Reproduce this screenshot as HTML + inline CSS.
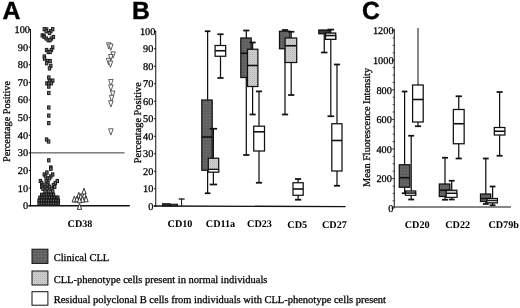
<!DOCTYPE html>
<html lang="en"><head><meta charset="utf-8"><title>Figure</title>
<style>
html,body{margin:0;padding:0;background:#fff;}
body{width:520px;height:308px;overflow:hidden;}
svg{display:block;filter:blur(0.35px);}
text{fill:#000;stroke:#000;stroke-width:0.28px;text-rendering:geometricPrecision;}
</style></head><body>
<svg width="520" height="308" viewBox="0 0 520 308">
<defs>
<pattern id="pd" width="3" height="3" patternUnits="userSpaceOnUse"><rect width="3" height="3" fill="#646464"/><rect x="0" y="0" width="1" height="1" fill="#565656"/><rect x="2" y="1" width="1" height="1" fill="#707070"/><rect x="1" y="2" width="1" height="1" fill="#5a5a5a"/></pattern>
<pattern id="pl" width="2" height="2" patternUnits="userSpaceOnUse"><rect width="2" height="2" fill="#d0d0d0"/><rect x="0" y="0" width="1" height="1" fill="#b4b4b4"/><rect x="1" y="1" width="1" height="1" fill="#c6c6c6"/></pattern>
</defs>
<rect x="0" y="0" width="520" height="308" fill="#fff"/>
<text x="2.60" y="19.20" font-family='"Liberation Sans", sans-serif' font-size="24.9" font-weight="bold" text-anchor="start" style="stroke-width:0.4px">A</text>
<text x="132.00" y="18.95" font-family='"Liberation Sans", sans-serif' font-size="24.7" font-weight="bold" text-anchor="start" style="stroke-width:0.4px">B</text>
<text x="361.90" y="18.85" font-family='"Liberation Sans", sans-serif' font-size="24.7" font-weight="bold" text-anchor="start" style="stroke-width:0.4px">C</text>
<line x1="30.50" y1="29.00" x2="30.50" y2="206.25" stroke="#111" stroke-width="1.0"/>
<line x1="28.50" y1="205.75" x2="129.80" y2="205.75" stroke="#111" stroke-width="1.4"/>
<line x1="30.50" y1="152.88" x2="124.50" y2="152.88" stroke="#222" stroke-width="0.9"/>
<line x1="28.70" y1="205.75" x2="30.50" y2="205.75" stroke="#111" stroke-width="1"/>
<text x="28.10" y="209.15" font-family='"Liberation Serif", serif' font-size="10.3" font-weight="normal" text-anchor="end">0</text>
<line x1="28.70" y1="188.12" x2="30.50" y2="188.12" stroke="#111" stroke-width="1"/>
<text x="28.10" y="191.53" font-family='"Liberation Serif", serif' font-size="10.3" font-weight="normal" text-anchor="end">10</text>
<line x1="28.70" y1="170.50" x2="30.50" y2="170.50" stroke="#111" stroke-width="1"/>
<text x="28.10" y="173.90" font-family='"Liberation Serif", serif' font-size="10.3" font-weight="normal" text-anchor="end">20</text>
<line x1="28.70" y1="152.88" x2="30.50" y2="152.88" stroke="#111" stroke-width="1"/>
<text x="28.10" y="156.28" font-family='"Liberation Serif", serif' font-size="10.3" font-weight="normal" text-anchor="end">30</text>
<line x1="28.70" y1="135.25" x2="30.50" y2="135.25" stroke="#111" stroke-width="1"/>
<text x="28.10" y="138.65" font-family='"Liberation Serif", serif' font-size="10.3" font-weight="normal" text-anchor="end">40</text>
<line x1="28.70" y1="117.62" x2="30.50" y2="117.62" stroke="#111" stroke-width="1"/>
<text x="28.10" y="121.03" font-family='"Liberation Serif", serif' font-size="10.3" font-weight="normal" text-anchor="end">50</text>
<line x1="28.70" y1="100.00" x2="30.50" y2="100.00" stroke="#111" stroke-width="1"/>
<text x="28.10" y="103.40" font-family='"Liberation Serif", serif' font-size="10.3" font-weight="normal" text-anchor="end">60</text>
<line x1="28.70" y1="82.38" x2="30.50" y2="82.38" stroke="#111" stroke-width="1"/>
<text x="28.10" y="85.78" font-family='"Liberation Serif", serif' font-size="10.3" font-weight="normal" text-anchor="end">70</text>
<line x1="28.70" y1="64.75" x2="30.50" y2="64.75" stroke="#111" stroke-width="1"/>
<text x="28.10" y="68.15" font-family='"Liberation Serif", serif' font-size="10.3" font-weight="normal" text-anchor="end">80</text>
<line x1="28.70" y1="47.12" x2="30.50" y2="47.12" stroke="#111" stroke-width="1"/>
<text x="28.10" y="50.52" font-family='"Liberation Serif", serif' font-size="10.3" font-weight="normal" text-anchor="end">90</text>
<line x1="28.70" y1="29.50" x2="30.50" y2="29.50" stroke="#111" stroke-width="1"/>
<text x="30.00" y="32.90" font-family='"Liberation Serif", serif' font-size="10.3" font-weight="normal" text-anchor="end">100</text>
<text x="10.40" y="121.50" font-family='"Liberation Serif", serif' font-size="10.3" font-weight="normal" text-anchor="middle" transform="rotate(-90 10.40 121.50)">Percentage Positive</text>
<text x="80.00" y="227.40" font-family='"Liberation Serif", serif' font-size="10.2" font-weight="bold" text-anchor="middle" style="stroke:none">CD38</text>
<rect x="43.10" y="27.60" width="2.4" height="3.2" fill="#777" stroke="#1a1a1a" stroke-width="1.0"/>
<rect x="45.40" y="27.80" width="2.4" height="3.2" fill="#777" stroke="#1a1a1a" stroke-width="1.0"/>
<rect x="51.50" y="27.60" width="2.4" height="3.2" fill="#777" stroke="#1a1a1a" stroke-width="1.0"/>
<rect x="45.00" y="29.70" width="2.4" height="3.2" fill="#777" stroke="#1a1a1a" stroke-width="1.0"/>
<rect x="49.60" y="29.50" width="2.4" height="3.2" fill="#777" stroke="#1a1a1a" stroke-width="1.0"/>
<rect x="48.30" y="31.40" width="2.4" height="3.2" fill="#777" stroke="#1a1a1a" stroke-width="1.0"/>
<rect x="41.10" y="33.80" width="2.4" height="3.2" fill="#777" stroke="#1a1a1a" stroke-width="1.0"/>
<rect x="42.70" y="34.20" width="2.4" height="3.2" fill="#777" stroke="#1a1a1a" stroke-width="1.0"/>
<rect x="43.10" y="35.40" width="2.4" height="3.2" fill="#777" stroke="#1a1a1a" stroke-width="1.0"/>
<rect x="52.20" y="35.40" width="2.4" height="3.2" fill="#777" stroke="#1a1a1a" stroke-width="1.0"/>
<rect x="45.00" y="36.90" width="2.4" height="3.2" fill="#777" stroke="#1a1a1a" stroke-width="1.0"/>
<rect x="50.20" y="36.90" width="2.4" height="3.2" fill="#777" stroke="#1a1a1a" stroke-width="1.0"/>
<rect x="47.00" y="38.60" width="2.4" height="3.2" fill="#777" stroke="#1a1a1a" stroke-width="1.0"/>
<rect x="48.80" y="38.60" width="2.4" height="3.2" fill="#777" stroke="#1a1a1a" stroke-width="1.0"/>
<rect x="51.50" y="45.80" width="2.4" height="3.2" fill="#777" stroke="#1a1a1a" stroke-width="1.0"/>
<rect x="45.40" y="48.40" width="2.4" height="3.2" fill="#777" stroke="#1a1a1a" stroke-width="1.0"/>
<rect x="50.20" y="48.40" width="2.4" height="3.2" fill="#777" stroke="#1a1a1a" stroke-width="1.0"/>
<rect x="47.00" y="50.40" width="2.4" height="3.2" fill="#777" stroke="#1a1a1a" stroke-width="1.0"/>
<rect x="48.90" y="50.40" width="2.4" height="3.2" fill="#777" stroke="#1a1a1a" stroke-width="1.0"/>
<rect x="43.10" y="54.90" width="2.4" height="3.2" fill="#777" stroke="#1a1a1a" stroke-width="1.0"/>
<rect x="43.40" y="57.00" width="2.4" height="3.2" fill="#777" stroke="#1a1a1a" stroke-width="1.0"/>
<rect x="46.30" y="59.40" width="2.4" height="3.2" fill="#777" stroke="#1a1a1a" stroke-width="1.0"/>
<rect x="48.90" y="59.40" width="2.4" height="3.2" fill="#777" stroke="#1a1a1a" stroke-width="1.0"/>
<rect x="45.40" y="61.60" width="2.4" height="3.2" fill="#777" stroke="#1a1a1a" stroke-width="1.0"/>
<rect x="49.60" y="64.20" width="2.4" height="3.2" fill="#777" stroke="#1a1a1a" stroke-width="1.0"/>
<rect x="48.30" y="66.80" width="2.4" height="3.2" fill="#777" stroke="#1a1a1a" stroke-width="1.0"/>
<rect x="47.60" y="75.90" width="2.4" height="3.2" fill="#777" stroke="#1a1a1a" stroke-width="1.0"/>
<rect x="48.30" y="79.20" width="2.4" height="3.2" fill="#777" stroke="#1a1a1a" stroke-width="1.0"/>
<rect x="51.50" y="79.00" width="2.4" height="3.2" fill="#777" stroke="#1a1a1a" stroke-width="1.0"/>
<rect x="45.70" y="81.80" width="2.4" height="3.2" fill="#777" stroke="#1a1a1a" stroke-width="1.0"/>
<rect x="47.60" y="82.00" width="2.4" height="3.2" fill="#777" stroke="#1a1a1a" stroke-width="1.0"/>
<rect x="50.20" y="81.60" width="2.4" height="3.2" fill="#777" stroke="#1a1a1a" stroke-width="1.0"/>
<rect x="47.60" y="85.00" width="2.4" height="3.2" fill="#777" stroke="#1a1a1a" stroke-width="1.0"/>
<rect x="47.60" y="91.40" width="2.4" height="3.2" fill="#777" stroke="#1a1a1a" stroke-width="1.0"/>
<rect x="47.60" y="105.90" width="2.4" height="3.2" fill="#777" stroke="#1a1a1a" stroke-width="1.0"/>
<rect x="47.60" y="114.00" width="2.4" height="3.2" fill="#777" stroke="#1a1a1a" stroke-width="1.0"/>
<rect x="47.60" y="121.50" width="2.4" height="3.2" fill="#777" stroke="#1a1a1a" stroke-width="1.0"/>
<rect x="45.40" y="137.90" width="2.4" height="3.2" fill="#777" stroke="#1a1a1a" stroke-width="1.0"/>
<rect x="47.40" y="139.90" width="2.4" height="3.2" fill="#777" stroke="#1a1a1a" stroke-width="1.0"/>
<rect x="47.60" y="158.70" width="2.4" height="3.2" fill="#777" stroke="#1a1a1a" stroke-width="1.0"/>
<rect x="49.60" y="165.90" width="2.4" height="3.2" fill="#777" stroke="#1a1a1a" stroke-width="1.0"/>
<rect x="49.60" y="167.20" width="2.4" height="3.2" fill="#777" stroke="#1a1a1a" stroke-width="1.0"/>
<rect x="45.70" y="170.90" width="2.4" height="3.2" fill="#777" stroke="#1a1a1a" stroke-width="1.0"/>
<rect x="43.10" y="172.90" width="2.4" height="3.2" fill="#777" stroke="#1a1a1a" stroke-width="1.0"/>
<rect x="51.50" y="172.90" width="2.4" height="3.2" fill="#777" stroke="#1a1a1a" stroke-width="1.0"/>
<rect x="44.40" y="174.80" width="2.4" height="3.2" fill="#777" stroke="#1a1a1a" stroke-width="1.0"/>
<rect x="49.60" y="174.80" width="2.4" height="3.2" fill="#777" stroke="#1a1a1a" stroke-width="1.0"/>
<rect x="46.30" y="176.80" width="2.4" height="3.2" fill="#777" stroke="#1a1a1a" stroke-width="1.0"/>
<rect x="48.30" y="176.80" width="2.4" height="3.2" fill="#777" stroke="#1a1a1a" stroke-width="1.0"/>
<rect x="39.20" y="179.40" width="2.4" height="3.2" fill="#777" stroke="#1a1a1a" stroke-width="1.0"/>
<rect x="45.00" y="179.40" width="2.4" height="3.2" fill="#777" stroke="#1a1a1a" stroke-width="1.0"/>
<rect x="56.10" y="179.40" width="2.4" height="3.2" fill="#777" stroke="#1a1a1a" stroke-width="1.0"/>
<rect x="40.50" y="181.40" width="2.4" height="3.2" fill="#777" stroke="#1a1a1a" stroke-width="1.0"/>
<rect x="46.80" y="181.40" width="2.4" height="3.2" fill="#777" stroke="#1a1a1a" stroke-width="1.0"/>
<rect x="54.10" y="181.40" width="2.4" height="3.2" fill="#777" stroke="#1a1a1a" stroke-width="1.0"/>
<rect x="41.80" y="183.40" width="2.4" height="3.2" fill="#777" stroke="#1a1a1a" stroke-width="1.0"/>
<rect x="45.80" y="183.40" width="2.4" height="3.2" fill="#777" stroke="#1a1a1a" stroke-width="1.0"/>
<rect x="52.20" y="183.40" width="2.4" height="3.2" fill="#777" stroke="#1a1a1a" stroke-width="1.0"/>
<rect x="40.50" y="185.20" width="2.4" height="3.2" fill="#777" stroke="#1a1a1a" stroke-width="1.0"/>
<rect x="43.80" y="185.20" width="2.4" height="3.2" fill="#777" stroke="#1a1a1a" stroke-width="1.0"/>
<rect x="48.30" y="185.20" width="2.4" height="3.2" fill="#777" stroke="#1a1a1a" stroke-width="1.0"/>
<rect x="53.50" y="185.20" width="2.4" height="3.2" fill="#777" stroke="#1a1a1a" stroke-width="1.0"/>
<rect x="41.80" y="187.20" width="2.4" height="3.2" fill="#777" stroke="#1a1a1a" stroke-width="1.0"/>
<rect x="45.70" y="187.20" width="2.4" height="3.2" fill="#777" stroke="#1a1a1a" stroke-width="1.0"/>
<rect x="50.20" y="187.20" width="2.4" height="3.2" fill="#777" stroke="#1a1a1a" stroke-width="1.0"/>
<rect x="43.80" y="189.80" width="2.4" height="3.2" fill="#777" stroke="#1a1a1a" stroke-width="1.0"/>
<rect x="47.60" y="189.80" width="2.4" height="3.2" fill="#777" stroke="#1a1a1a" stroke-width="1.0"/>
<rect x="51.50" y="189.80" width="2.4" height="3.2" fill="#777" stroke="#1a1a1a" stroke-width="1.0"/>
<rect x="40.50" y="193.20" width="2.2" height="3.0" fill="#6a6a6a" stroke="#151515" stroke-width="1.0"/>
<rect x="42.90" y="193.20" width="2.2" height="3.0" fill="#6a6a6a" stroke="#151515" stroke-width="1.0"/>
<rect x="45.30" y="193.20" width="2.2" height="3.0" fill="#6a6a6a" stroke="#151515" stroke-width="1.0"/>
<rect x="47.70" y="193.20" width="2.2" height="3.0" fill="#6a6a6a" stroke="#151515" stroke-width="1.0"/>
<rect x="50.10" y="193.20" width="2.2" height="3.0" fill="#6a6a6a" stroke="#151515" stroke-width="1.0"/>
<rect x="52.50" y="193.20" width="2.2" height="3.0" fill="#6a6a6a" stroke="#151515" stroke-width="1.0"/>
<rect x="38.70" y="196.10" width="2.2" height="3.0" fill="#6a6a6a" stroke="#151515" stroke-width="1.0"/>
<rect x="41.10" y="196.10" width="2.2" height="3.0" fill="#6a6a6a" stroke="#151515" stroke-width="1.0"/>
<rect x="43.50" y="196.10" width="2.2" height="3.0" fill="#6a6a6a" stroke="#151515" stroke-width="1.0"/>
<rect x="45.90" y="196.10" width="2.2" height="3.0" fill="#6a6a6a" stroke="#151515" stroke-width="1.0"/>
<rect x="48.30" y="196.10" width="2.2" height="3.0" fill="#6a6a6a" stroke="#151515" stroke-width="1.0"/>
<rect x="50.70" y="196.10" width="2.2" height="3.0" fill="#6a6a6a" stroke="#151515" stroke-width="1.0"/>
<rect x="53.10" y="196.10" width="2.2" height="3.0" fill="#6a6a6a" stroke="#151515" stroke-width="1.0"/>
<rect x="55.50" y="196.10" width="2.2" height="3.0" fill="#6a6a6a" stroke="#151515" stroke-width="1.0"/>
<rect x="56.80" y="196.10" width="2.2" height="3.0" fill="#6a6a6a" stroke="#151515" stroke-width="1.0"/>
<rect x="37.90" y="199.00" width="2.2" height="3.0" fill="#6a6a6a" stroke="#151515" stroke-width="1.0"/>
<rect x="40.33" y="199.00" width="2.2" height="3.0" fill="#6a6a6a" stroke="#151515" stroke-width="1.0"/>
<rect x="42.76" y="199.00" width="2.2" height="3.0" fill="#6a6a6a" stroke="#151515" stroke-width="1.0"/>
<rect x="45.19" y="199.00" width="2.2" height="3.0" fill="#6a6a6a" stroke="#151515" stroke-width="1.0"/>
<rect x="47.62" y="199.00" width="2.2" height="3.0" fill="#6a6a6a" stroke="#151515" stroke-width="1.0"/>
<rect x="50.05" y="199.00" width="2.2" height="3.0" fill="#6a6a6a" stroke="#151515" stroke-width="1.0"/>
<rect x="52.48" y="199.00" width="2.2" height="3.0" fill="#6a6a6a" stroke="#151515" stroke-width="1.0"/>
<rect x="54.91" y="199.00" width="2.2" height="3.0" fill="#6a6a6a" stroke="#151515" stroke-width="1.0"/>
<rect x="57.34" y="199.00" width="2.2" height="3.0" fill="#6a6a6a" stroke="#151515" stroke-width="1.0"/>
<rect x="37.90" y="202.10" width="2.2" height="3.0" fill="#6a6a6a" stroke="#151515" stroke-width="1.0"/>
<rect x="40.33" y="202.10" width="2.2" height="3.0" fill="#6a6a6a" stroke="#151515" stroke-width="1.0"/>
<rect x="42.76" y="202.10" width="2.2" height="3.0" fill="#6a6a6a" stroke="#151515" stroke-width="1.0"/>
<rect x="45.19" y="202.10" width="2.2" height="3.0" fill="#6a6a6a" stroke="#151515" stroke-width="1.0"/>
<rect x="47.62" y="202.10" width="2.2" height="3.0" fill="#6a6a6a" stroke="#151515" stroke-width="1.0"/>
<rect x="50.05" y="202.10" width="2.2" height="3.0" fill="#6a6a6a" stroke="#151515" stroke-width="1.0"/>
<rect x="52.48" y="202.10" width="2.2" height="3.0" fill="#6a6a6a" stroke="#151515" stroke-width="1.0"/>
<rect x="54.91" y="202.10" width="2.2" height="3.0" fill="#6a6a6a" stroke="#151515" stroke-width="1.0"/>
<rect x="57.34" y="202.10" width="2.2" height="3.0" fill="#6a6a6a" stroke="#151515" stroke-width="1.0"/>
<path d="M84.40 192.20 L86.60 198.00 L82.20 198.00 Z" fill="#fff" stroke="#222" stroke-width="0.9"/>
<path d="M84.00 188.20 L86.20 194.00 L81.80 194.00 Z" fill="#fff" stroke="#222" stroke-width="0.9"/>
<path d="M78.80 192.30 L81.00 198.10 L76.60 198.10 Z" fill="#fff" stroke="#222" stroke-width="0.9"/>
<path d="M80.80 193.60 L83.00 199.40 L78.60 199.40 Z" fill="#fff" stroke="#222" stroke-width="0.9"/>
<path d="M74.30 196.20 L76.50 202.00 L72.10 202.00 Z" fill="#fff" stroke="#222" stroke-width="0.9"/>
<path d="M76.90 196.00 L79.10 201.80 L74.70 201.80 Z" fill="#fff" stroke="#222" stroke-width="0.9"/>
<path d="M86.00 196.00 L88.20 201.80 L83.80 201.80 Z" fill="#fff" stroke="#222" stroke-width="0.9"/>
<path d="M82.50 196.40 L84.70 202.20 L80.30 202.20 Z" fill="#fff" stroke="#222" stroke-width="0.9"/>
<path d="M79.50 197.00 L81.70 202.80 L77.30 202.80 Z" fill="#fff" stroke="#222" stroke-width="0.9"/>
<path d="M79.50 203.60 L81.70 209.40 L77.30 209.40 Z" fill="#fff" stroke="#222" stroke-width="0.9"/>
<path d="M106.55 42.80 L111.05 42.80 L108.80 49.10 Z" fill="#fff" stroke="#444" stroke-width="0.85"/>
<path d="M108.55 44.00 L113.05 44.00 L110.80 50.30 Z" fill="#fff" stroke="#444" stroke-width="0.85"/>
<path d="M110.85 51.90 L115.35 51.90 L113.10 58.20 Z" fill="#fff" stroke="#444" stroke-width="0.85"/>
<path d="M108.55 54.50 L113.05 54.50 L110.80 60.80 Z" fill="#fff" stroke="#444" stroke-width="0.85"/>
<path d="M106.35 58.40 L110.85 58.40 L108.60 64.70 Z" fill="#fff" stroke="#444" stroke-width="0.85"/>
<path d="M108.25 61.00 L112.75 61.00 L110.50 67.30 Z" fill="#fff" stroke="#444" stroke-width="0.85"/>
<path d="M108.65 79.50 L113.15 79.50 L110.90 85.80 Z" fill="#fff" stroke="#444" stroke-width="0.85"/>
<path d="M108.65 84.80 L113.15 84.80 L110.90 91.10 Z" fill="#fff" stroke="#444" stroke-width="0.85"/>
<path d="M110.45 91.00 L114.95 91.00 L112.70 97.30 Z" fill="#fff" stroke="#444" stroke-width="0.85"/>
<path d="M109.35 95.30 L113.85 95.30 L111.60 101.60 Z" fill="#fff" stroke="#444" stroke-width="0.85"/>
<path d="M108.65 100.70 L113.15 100.70 L110.90 107.00 Z" fill="#fff" stroke="#444" stroke-width="0.85"/>
<path d="M108.65 128.80 L113.15 128.80 L110.90 135.10 Z" fill="#fff" stroke="#444" stroke-width="0.85"/>
<line x1="155.75" y1="30.75" x2="155.75" y2="206.75" stroke="#111" stroke-width="1.0"/>
<line x1="153.75" y1="206.00" x2="345.50" y2="206.60" stroke="#111" stroke-width="1.4"/>
<line x1="153.95" y1="206.25" x2="155.75" y2="206.25" stroke="#111" stroke-width="1"/>
<text x="153.35" y="209.65" font-family='"Liberation Serif", serif' font-size="10.3" font-weight="normal" text-anchor="end">0</text>
<line x1="153.95" y1="188.75" x2="155.75" y2="188.75" stroke="#111" stroke-width="1"/>
<text x="153.35" y="192.15" font-family='"Liberation Serif", serif' font-size="10.3" font-weight="normal" text-anchor="end">10</text>
<line x1="153.95" y1="171.25" x2="155.75" y2="171.25" stroke="#111" stroke-width="1"/>
<text x="153.35" y="174.65" font-family='"Liberation Serif", serif' font-size="10.3" font-weight="normal" text-anchor="end">20</text>
<line x1="153.95" y1="153.75" x2="155.75" y2="153.75" stroke="#111" stroke-width="1"/>
<text x="153.35" y="157.15" font-family='"Liberation Serif", serif' font-size="10.3" font-weight="normal" text-anchor="end">30</text>
<line x1="153.95" y1="136.25" x2="155.75" y2="136.25" stroke="#111" stroke-width="1"/>
<text x="153.35" y="139.65" font-family='"Liberation Serif", serif' font-size="10.3" font-weight="normal" text-anchor="end">40</text>
<line x1="153.95" y1="118.75" x2="155.75" y2="118.75" stroke="#111" stroke-width="1"/>
<text x="153.35" y="122.15" font-family='"Liberation Serif", serif' font-size="10.3" font-weight="normal" text-anchor="end">50</text>
<line x1="153.95" y1="101.25" x2="155.75" y2="101.25" stroke="#111" stroke-width="1"/>
<text x="153.35" y="104.65" font-family='"Liberation Serif", serif' font-size="10.3" font-weight="normal" text-anchor="end">60</text>
<line x1="153.95" y1="83.75" x2="155.75" y2="83.75" stroke="#111" stroke-width="1"/>
<text x="153.35" y="87.15" font-family='"Liberation Serif", serif' font-size="10.3" font-weight="normal" text-anchor="end">70</text>
<line x1="153.95" y1="66.25" x2="155.75" y2="66.25" stroke="#111" stroke-width="1"/>
<text x="153.35" y="69.65" font-family='"Liberation Serif", serif' font-size="10.3" font-weight="normal" text-anchor="end">80</text>
<line x1="153.95" y1="48.75" x2="155.75" y2="48.75" stroke="#111" stroke-width="1"/>
<text x="153.35" y="52.15" font-family='"Liberation Serif", serif' font-size="10.3" font-weight="normal" text-anchor="end">90</text>
<line x1="153.95" y1="31.25" x2="155.75" y2="31.25" stroke="#111" stroke-width="1"/>
<text x="155.35" y="34.65" font-family='"Liberation Serif", serif' font-size="10.3" font-weight="normal" text-anchor="end">100</text>
<text x="141.50" y="122.70" font-family='"Liberation Serif", serif' font-size="10.3" font-weight="normal" text-anchor="middle" transform="rotate(-90 141.50 122.70)">Percentage Positive</text>
<text x="180.00" y="226.50" font-family='"Liberation Serif", serif' font-size="10.2" font-weight="bold" text-anchor="middle" style="stroke:none">CD10</text>
<text x="220.50" y="226.80" font-family='"Liberation Serif", serif' font-size="10.2" font-weight="bold" text-anchor="middle" style="stroke:none">CD11a</text>
<text x="259.50" y="227.20" font-family='"Liberation Serif", serif' font-size="10.2" font-weight="bold" text-anchor="middle" style="stroke:none">CD23</text>
<text x="297.20" y="227.60" font-family='"Liberation Serif", serif' font-size="10.2" font-weight="bold" text-anchor="middle" style="stroke:none">CD5</text>
<text x="334.40" y="227.90" font-family='"Liberation Serif", serif' font-size="10.2" font-weight="bold" text-anchor="middle" style="stroke:none">CD27</text>
<rect x="162.50" y="203.70" width="7.50" height="2.30" fill="#333" stroke="#111" stroke-width="1"/>
<rect x="170.50" y="204.20" width="7.00" height="1.80" fill="#444" stroke="#111" stroke-width="1"/>
<line x1="181.60" y1="199.00" x2="181.60" y2="206.00" stroke="#111" stroke-width="1"/>
<line x1="178.70" y1="199.00" x2="184.60" y2="199.00" stroke="#111" stroke-width="1.3"/>
<line x1="207.60" y1="31.25" x2="207.60" y2="100.00" stroke="#111" stroke-width="1.25"/>
<line x1="204.80" y1="31.25" x2="210.40" y2="31.25" stroke="#111" stroke-width="1.75"/>
<line x1="207.60" y1="170.25" x2="207.60" y2="193.25" stroke="#111" stroke-width="1.25"/>
<line x1="204.80" y1="193.25" x2="210.40" y2="193.25" stroke="#111" stroke-width="1.75"/>
<rect x="201.80" y="100.00" width="10.40" height="70.25" fill="url(#pd)" stroke="#111" stroke-width="1.25"/>
<line x1="201.80" y1="137.00" x2="212.20" y2="137.00" stroke="#111" stroke-width="1.6"/>
<line x1="213.40" y1="128.75" x2="213.40" y2="158.25" stroke="#111" stroke-width="1.25"/>
<line x1="209.70" y1="128.75" x2="217.10" y2="128.75" stroke="#111" stroke-width="1.75"/>
<line x1="213.40" y1="172.00" x2="213.40" y2="184.50" stroke="#111" stroke-width="1.25"/>
<line x1="209.70" y1="184.50" x2="217.10" y2="184.50" stroke="#111" stroke-width="1.75"/>
<rect x="208.30" y="158.25" width="10.40" height="13.75" fill="url(#pl)" stroke="#111" stroke-width="1.25"/>
<line x1="208.30" y1="169.50" x2="218.70" y2="169.50" stroke="#111" stroke-width="1.6"/>
<rect x="208.30" y="169.50" width="10.40" height="2.50" fill="#ffffff" stroke="#111" stroke-width="1"/>
<line x1="220.50" y1="34.25" x2="220.50" y2="45.50" stroke="#111" stroke-width="1.25"/>
<line x1="217.40" y1="34.25" x2="223.60" y2="34.25" stroke="#111" stroke-width="1.75"/>
<line x1="220.50" y1="56.25" x2="220.50" y2="78.00" stroke="#111" stroke-width="1.25"/>
<line x1="217.40" y1="78.00" x2="223.60" y2="78.00" stroke="#111" stroke-width="1.75"/>
<rect x="215.10" y="45.50" width="10.60" height="10.75" fill="#ffffff" stroke="#111" stroke-width="1.25"/>
<line x1="215.10" y1="50.75" x2="225.70" y2="50.75" stroke="#111" stroke-width="1.6"/>
<line x1="246.30" y1="30.50" x2="246.30" y2="38.00" stroke="#111" stroke-width="1.25"/>
<line x1="243.20" y1="30.50" x2="249.40" y2="30.50" stroke="#111" stroke-width="1.75"/>
<line x1="246.30" y1="77.50" x2="246.30" y2="155.00" stroke="#111" stroke-width="1.25"/>
<line x1="243.20" y1="155.00" x2="249.40" y2="155.00" stroke="#111" stroke-width="1.75"/>
<rect x="240.80" y="38.00" width="10.40" height="39.50" fill="url(#pd)" stroke="#111" stroke-width="1.25"/>
<line x1="240.80" y1="53.25" x2="251.20" y2="53.25" stroke="#111" stroke-width="1.6"/>
<line x1="252.60" y1="42.50" x2="252.60" y2="49.25" stroke="#111" stroke-width="1.25"/>
<line x1="249.50" y1="42.50" x2="255.70" y2="42.50" stroke="#111" stroke-width="1.75"/>
<line x1="252.60" y1="86.50" x2="252.60" y2="114.50" stroke="#111" stroke-width="1.25"/>
<line x1="249.50" y1="114.50" x2="255.70" y2="114.50" stroke="#111" stroke-width="1.75"/>
<rect x="247.50" y="49.25" width="10.40" height="37.25" fill="url(#pl)" stroke="#111" stroke-width="1.25"/>
<line x1="247.50" y1="65.50" x2="257.90" y2="65.50" stroke="#111" stroke-width="1.6"/>
<line x1="259.00" y1="91.40" x2="259.00" y2="126.20" stroke="#111" stroke-width="1.25"/>
<line x1="255.90" y1="91.40" x2="262.10" y2="91.40" stroke="#111" stroke-width="1.75"/>
<line x1="259.00" y1="151.00" x2="259.00" y2="182.75" stroke="#111" stroke-width="1.25"/>
<line x1="255.90" y1="182.75" x2="262.10" y2="182.75" stroke="#111" stroke-width="1.75"/>
<rect x="253.70" y="126.20" width="10.80" height="24.80" fill="#ffffff" stroke="#111" stroke-width="1.25"/>
<line x1="253.70" y1="131.80" x2="264.50" y2="131.80" stroke="#111" stroke-width="1.6"/>
<line x1="285.00" y1="30.00" x2="285.00" y2="31.25" stroke="#111" stroke-width="1.25"/>
<line x1="281.90" y1="30.00" x2="288.10" y2="30.00" stroke="#111" stroke-width="1.75"/>
<line x1="285.00" y1="48.75" x2="285.00" y2="114.50" stroke="#111" stroke-width="1.25"/>
<line x1="281.90" y1="114.50" x2="288.10" y2="114.50" stroke="#111" stroke-width="1.75"/>
<rect x="279.50" y="31.25" width="10.40" height="17.50" fill="url(#pd)" stroke="#111" stroke-width="1.25"/>
<line x1="291.20" y1="31.75" x2="291.20" y2="38.00" stroke="#111" stroke-width="1.25"/>
<line x1="288.10" y1="31.75" x2="294.30" y2="31.75" stroke="#111" stroke-width="1.75"/>
<line x1="291.20" y1="62.50" x2="291.20" y2="95.00" stroke="#111" stroke-width="1.25"/>
<line x1="288.10" y1="95.00" x2="294.30" y2="95.00" stroke="#111" stroke-width="1.75"/>
<rect x="285.10" y="38.00" width="11.60" height="24.50" fill="url(#pl)" stroke="#111" stroke-width="1.25"/>
<line x1="285.10" y1="45.75" x2="296.70" y2="45.75" stroke="#111" stroke-width="1.6"/>
<line x1="298.10" y1="179.00" x2="298.10" y2="182.75" stroke="#111" stroke-width="1.25"/>
<line x1="295.00" y1="179.00" x2="301.20" y2="179.00" stroke="#111" stroke-width="1.75"/>
<line x1="298.10" y1="195.25" x2="298.10" y2="199.75" stroke="#111" stroke-width="1.25"/>
<line x1="295.00" y1="199.75" x2="301.20" y2="199.75" stroke="#111" stroke-width="1.75"/>
<rect x="293.00" y="182.75" width="10.20" height="12.50" fill="#ffffff" stroke="#111" stroke-width="1.25"/>
<line x1="293.00" y1="189.00" x2="303.20" y2="189.00" stroke="#111" stroke-width="1.6"/>
<line x1="324.25" y1="33.75" x2="324.25" y2="52.50" stroke="#111" stroke-width="1.25"/>
<line x1="321.05" y1="52.50" x2="327.45" y2="52.50" stroke="#111" stroke-width="1.75"/>
<rect x="318.80" y="30.00" width="11.20" height="3.75" fill="#3a3a3a" stroke="#111" stroke-width="1.25"/>
<line x1="330.80" y1="29.60" x2="330.80" y2="33.00" stroke="#111" stroke-width="1.25"/>
<line x1="327.50" y1="29.60" x2="334.10" y2="29.60" stroke="#111" stroke-width="1.75"/>
<line x1="330.80" y1="39.30" x2="330.80" y2="116.25" stroke="#111" stroke-width="1.25"/>
<line x1="327.50" y1="116.25" x2="334.10" y2="116.25" stroke="#111" stroke-width="1.75"/>
<rect x="325.50" y="33.00" width="10.20" height="6.30" fill="url(#pl)" stroke="#111" stroke-width="1.25"/>
<line x1="325.50" y1="35.75" x2="335.70" y2="35.75" stroke="#111" stroke-width="1.6"/>
<rect x="325.50" y="35.75" width="10.20" height="3.55" fill="#ffffff" stroke="#111" stroke-width="1.25"/>
<line x1="337.00" y1="64.50" x2="337.00" y2="123.75" stroke="#111" stroke-width="1.25"/>
<line x1="333.90" y1="64.50" x2="340.10" y2="64.50" stroke="#111" stroke-width="1.75"/>
<line x1="337.00" y1="171.00" x2="337.00" y2="185.75" stroke="#111" stroke-width="1.25"/>
<line x1="333.90" y1="185.75" x2="340.10" y2="185.75" stroke="#111" stroke-width="1.75"/>
<rect x="331.80" y="123.75" width="10.20" height="47.25" fill="#ffffff" stroke="#111" stroke-width="1.25"/>
<line x1="331.80" y1="140.50" x2="342.00" y2="140.50" stroke="#111" stroke-width="1.6"/>
<line x1="394.25" y1="28.75" x2="394.25" y2="207.50" stroke="#111" stroke-width="1.0"/>
<line x1="392.25" y1="207.00" x2="511.00" y2="207.00" stroke="#111" stroke-width="1.2"/>
<line x1="391.65" y1="208.20" x2="394.25" y2="208.20" stroke="#111" stroke-width="0.8"/>
<line x1="392.65" y1="200.80" x2="394.25" y2="200.80" stroke="#111" stroke-width="0.8"/>
<line x1="392.65" y1="193.40" x2="394.25" y2="193.40" stroke="#111" stroke-width="0.8"/>
<line x1="392.65" y1="186.00" x2="394.25" y2="186.00" stroke="#111" stroke-width="0.8"/>
<line x1="391.65" y1="178.60" x2="394.25" y2="178.60" stroke="#111" stroke-width="0.8"/>
<line x1="392.65" y1="171.20" x2="394.25" y2="171.20" stroke="#111" stroke-width="0.8"/>
<line x1="392.65" y1="163.80" x2="394.25" y2="163.80" stroke="#111" stroke-width="0.8"/>
<line x1="392.65" y1="156.40" x2="394.25" y2="156.40" stroke="#111" stroke-width="0.8"/>
<line x1="391.65" y1="149.00" x2="394.25" y2="149.00" stroke="#111" stroke-width="0.8"/>
<line x1="392.65" y1="141.60" x2="394.25" y2="141.60" stroke="#111" stroke-width="0.8"/>
<line x1="392.65" y1="134.20" x2="394.25" y2="134.20" stroke="#111" stroke-width="0.8"/>
<line x1="392.65" y1="126.80" x2="394.25" y2="126.80" stroke="#111" stroke-width="0.8"/>
<line x1="391.65" y1="119.40" x2="394.25" y2="119.40" stroke="#111" stroke-width="0.8"/>
<line x1="392.65" y1="112.00" x2="394.25" y2="112.00" stroke="#111" stroke-width="0.8"/>
<line x1="392.65" y1="104.60" x2="394.25" y2="104.60" stroke="#111" stroke-width="0.8"/>
<line x1="392.65" y1="97.20" x2="394.25" y2="97.20" stroke="#111" stroke-width="0.8"/>
<line x1="391.65" y1="89.80" x2="394.25" y2="89.80" stroke="#111" stroke-width="0.8"/>
<line x1="392.65" y1="82.40" x2="394.25" y2="82.40" stroke="#111" stroke-width="0.8"/>
<line x1="392.65" y1="75.00" x2="394.25" y2="75.00" stroke="#111" stroke-width="0.8"/>
<line x1="392.65" y1="67.60" x2="394.25" y2="67.60" stroke="#111" stroke-width="0.8"/>
<line x1="391.65" y1="60.20" x2="394.25" y2="60.20" stroke="#111" stroke-width="0.8"/>
<line x1="392.65" y1="52.80" x2="394.25" y2="52.80" stroke="#111" stroke-width="0.8"/>
<line x1="392.65" y1="45.40" x2="394.25" y2="45.40" stroke="#111" stroke-width="0.8"/>
<line x1="392.65" y1="38.00" x2="394.25" y2="38.00" stroke="#111" stroke-width="0.8"/>
<line x1="391.65" y1="30.60" x2="394.25" y2="30.60" stroke="#111" stroke-width="0.8"/>
<text x="393.55" y="34.35" font-family='"Liberation Serif", serif' font-size="10.3" font-weight="normal" text-anchor="end">1200</text>
<text x="393.55" y="64.35" font-family='"Liberation Serif", serif' font-size="10.3" font-weight="normal" text-anchor="end">1000</text>
<text x="391.85" y="93.60" font-family='"Liberation Serif", serif' font-size="10.3" font-weight="normal" text-anchor="end">800</text>
<text x="391.85" y="123.10" font-family='"Liberation Serif", serif' font-size="10.3" font-weight="normal" text-anchor="end">600</text>
<text x="391.85" y="152.60" font-family='"Liberation Serif", serif' font-size="10.3" font-weight="normal" text-anchor="end">400</text>
<text x="391.85" y="181.50" font-family='"Liberation Serif", serif' font-size="10.3" font-weight="normal" text-anchor="end">200</text>
<text x="393.35" y="211.80" font-family='"Liberation Serif", serif' font-size="10.3" font-weight="normal" text-anchor="end">0</text>
<text x="370.10" y="127.40" font-family='"Liberation Serif", serif' font-size="10.3" font-weight="normal" text-anchor="middle" transform="rotate(-90 370.10 127.40)">Mean Fluorescence Intensity</text>
<text x="417.20" y="228.00" font-family='"Liberation Serif", serif' font-size="10.2" font-weight="bold" text-anchor="middle" style="stroke:none">CD20</text>
<text x="457.70" y="228.00" font-family='"Liberation Serif", serif' font-size="10.2" font-weight="bold" text-anchor="middle" style="stroke:none">CD22</text>
<text x="503.70" y="228.00" font-family='"Liberation Serif", serif' font-size="10.2" font-weight="bold" text-anchor="middle" style="stroke:none">CD79b</text>
<line x1="404.60" y1="91.50" x2="404.60" y2="164.75" stroke="#111" stroke-width="1.25"/>
<line x1="401.80" y1="91.50" x2="407.40" y2="91.50" stroke="#111" stroke-width="1.75"/>
<line x1="404.60" y1="187.25" x2="404.60" y2="193.25" stroke="#111" stroke-width="1.25"/>
<line x1="401.80" y1="193.25" x2="407.40" y2="193.25" stroke="#111" stroke-width="1.75"/>
<rect x="399.30" y="164.75" width="10.60" height="22.50" fill="url(#pd)" stroke="#111" stroke-width="1.25"/>
<line x1="399.30" y1="177.75" x2="409.90" y2="177.75" stroke="#111" stroke-width="1.6"/>
<line x1="411.20" y1="135.75" x2="411.20" y2="191.00" stroke="#111" stroke-width="1.25"/>
<line x1="408.20" y1="135.75" x2="414.20" y2="135.75" stroke="#111" stroke-width="1.75"/>
<line x1="411.20" y1="195.25" x2="411.20" y2="199.50" stroke="#111" stroke-width="1.25"/>
<line x1="408.20" y1="199.50" x2="414.20" y2="199.50" stroke="#111" stroke-width="1.75"/>
<rect x="405.50" y="191.00" width="10.20" height="4.25" fill="url(#pl)" stroke="#111" stroke-width="1.25"/>
<line x1="405.50" y1="193.25" x2="415.70" y2="193.25" stroke="#111" stroke-width="1.6"/>
<rect x="405.50" y="193.25" width="10.20" height="2.00" fill="#ffffff" stroke="#111" stroke-width="1"/>
<line x1="418.00" y1="122.00" x2="418.00" y2="126.25" stroke="#111" stroke-width="1.25"/>
<line x1="414.90" y1="126.25" x2="421.10" y2="126.25" stroke="#111" stroke-width="1.75"/>
<rect x="412.60" y="85.00" width="10.60" height="37.00" fill="#ffffff" stroke="#111" stroke-width="1.25"/>
<line x1="412.60" y1="99.50" x2="423.20" y2="99.50" stroke="#111" stroke-width="1.6"/>
<line x1="418.00" y1="28.00" x2="418.00" y2="85.00" stroke="#111" stroke-width="1"/>
<line x1="445.00" y1="157.75" x2="445.00" y2="184.00" stroke="#111" stroke-width="1.25"/>
<line x1="442.00" y1="157.75" x2="448.00" y2="157.75" stroke="#111" stroke-width="1.75"/>
<line x1="445.00" y1="196.50" x2="445.00" y2="199.75" stroke="#111" stroke-width="1.25"/>
<line x1="442.00" y1="199.75" x2="448.00" y2="199.75" stroke="#111" stroke-width="1.75"/>
<rect x="439.30" y="184.00" width="10.60" height="12.50" fill="url(#pd)" stroke="#111" stroke-width="1.25"/>
<line x1="439.30" y1="190.25" x2="449.90" y2="190.25" stroke="#111" stroke-width="1.6"/>
<line x1="451.70" y1="180.75" x2="451.70" y2="190.25" stroke="#111" stroke-width="1.25"/>
<line x1="448.80" y1="180.75" x2="454.60" y2="180.75" stroke="#111" stroke-width="1.75"/>
<line x1="451.70" y1="197.25" x2="451.70" y2="199.50" stroke="#111" stroke-width="1.25"/>
<line x1="448.80" y1="199.50" x2="454.60" y2="199.50" stroke="#111" stroke-width="1.75"/>
<rect x="446.30" y="190.25" width="10.60" height="7.00" fill="url(#pl)" stroke="#111" stroke-width="1.25"/>
<line x1="446.30" y1="193.50" x2="456.90" y2="193.50" stroke="#111" stroke-width="1.6"/>
<rect x="446.30" y="193.50" width="10.60" height="3.75" fill="#ffffff" stroke="#111" stroke-width="1"/>
<line x1="458.75" y1="96.25" x2="458.75" y2="109.50" stroke="#111" stroke-width="1.25"/>
<line x1="455.65" y1="96.25" x2="461.85" y2="96.25" stroke="#111" stroke-width="1.75"/>
<line x1="458.75" y1="143.75" x2="458.75" y2="158.50" stroke="#111" stroke-width="1.25"/>
<line x1="455.65" y1="158.50" x2="461.85" y2="158.50" stroke="#111" stroke-width="1.75"/>
<rect x="453.35" y="109.50" width="10.80" height="34.25" fill="#ffffff" stroke="#111" stroke-width="1.25"/>
<line x1="453.35" y1="123.75" x2="464.15" y2="123.75" stroke="#111" stroke-width="1.6"/>
<line x1="485.80" y1="158.50" x2="485.80" y2="194.00" stroke="#111" stroke-width="1.25"/>
<line x1="482.90" y1="158.50" x2="488.70" y2="158.50" stroke="#111" stroke-width="1.75"/>
<line x1="485.80" y1="201.50" x2="485.80" y2="204.00" stroke="#111" stroke-width="1.25"/>
<line x1="482.90" y1="204.00" x2="488.70" y2="204.00" stroke="#111" stroke-width="1.75"/>
<rect x="480.50" y="194.00" width="10.20" height="7.50" fill="url(#pd)" stroke="#111" stroke-width="1.25"/>
<line x1="480.50" y1="198.50" x2="490.70" y2="198.50" stroke="#111" stroke-width="1.6"/>
<line x1="492.60" y1="186.50" x2="492.60" y2="198.50" stroke="#111" stroke-width="1.25"/>
<line x1="489.70" y1="186.50" x2="495.50" y2="186.50" stroke="#111" stroke-width="1.75"/>
<line x1="492.60" y1="202.75" x2="492.60" y2="205.25" stroke="#111" stroke-width="1.25"/>
<line x1="489.70" y1="205.25" x2="495.50" y2="205.25" stroke="#111" stroke-width="1.75"/>
<rect x="487.00" y="198.50" width="10.40" height="4.25" fill="url(#pl)" stroke="#111" stroke-width="1.25"/>
<line x1="487.00" y1="200.75" x2="497.40" y2="200.75" stroke="#111" stroke-width="1.6"/>
<rect x="487.00" y="200.75" width="10.40" height="2.00" fill="#ffffff" stroke="#111" stroke-width="1"/>
<line x1="499.60" y1="92.00" x2="499.60" y2="127.50" stroke="#111" stroke-width="1.25"/>
<line x1="496.60" y1="92.00" x2="502.60" y2="92.00" stroke="#111" stroke-width="1.75"/>
<line x1="499.60" y1="135.00" x2="499.60" y2="155.75" stroke="#111" stroke-width="1.25"/>
<line x1="496.60" y1="155.75" x2="502.60" y2="155.75" stroke="#111" stroke-width="1.75"/>
<rect x="494.30" y="127.50" width="10.60" height="7.50" fill="#ffffff" stroke="#111" stroke-width="1.25"/>
<line x1="494.30" y1="131.25" x2="504.90" y2="131.25" stroke="#111" stroke-width="1.6"/>
<rect x="32.00" y="249.20" width="15.90" height="14.20" fill="url(#pd)" stroke="#111" stroke-width="1.0"/>
<rect x="32.00" y="271.00" width="15.90" height="14.00" fill="url(#pl)" stroke="#111" stroke-width="1.0"/>
<rect x="32.00" y="291.70" width="15.90" height="13.50" fill="#ffffff" stroke="#111" stroke-width="1.0"/>
<text x="53.70" y="261.40" font-family='"Liberation Serif", serif' font-size="10.47" font-weight="normal" text-anchor="start">Clinical CLL</text>
<text x="53.70" y="283.10" font-family='"Liberation Serif", serif' font-size="10.47" font-weight="normal" text-anchor="start">CLL-phenotype cells present in normal individuals</text>
<text x="53.70" y="302.80" font-family='"Liberation Serif", serif' font-size="10.47" font-weight="normal" text-anchor="start">Residual polyclonal B cells from individuals with CLL-phenotype cells present</text>
</svg>
</body></html>
